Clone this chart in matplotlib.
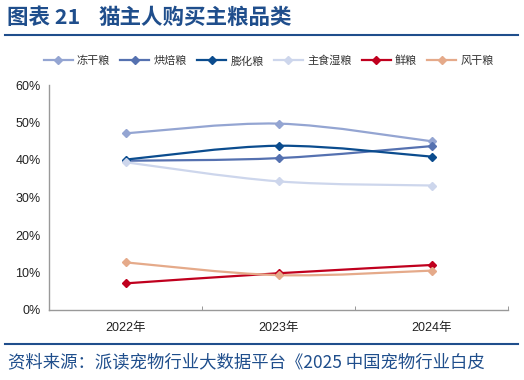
import matplotlib
matplotlib.use("Agg")
import matplotlib.pyplot as plt
from matplotlib.path import Path
from matplotlib.patches import PathPatch
from matplotlib.lines import Line2D

plt.rcParams["font.family"] = ["Liberation Sans", "Noto Sans CJK SC", "DejaVu Sans"]

years = ["2022年", "2023年", "2024年"]
series_names = ["冻干粮", "烘焙粮", "膨化粮", "主食湿粮", "鲜粮", "风干粮"]
dongganliang = [47.1, 49.7, 45.0]
hongbeiliang = [39.8, 40.5, 43.7]
penghualiang = [40.1, 43.8, 40.9]
shiliang = [39.4, 34.3, 33.2]
xianliang = [7.1, 9.8, 12.0]
fengganliang = [12.7, 9.3, 10.5]
colors = ["#94A5D2", "#5571B0", "#0B4C8E", "#CDD6EC", "#C0001E", "#E5AA8A"]

values = [dongganliang, hongbeiliang, penghualiang, shiliang, xianliang, fengganliang]

fig = plt.figure(figsize=(5.24, 3.80), dpi=100)
ax = fig.add_axes([49 / 524, 1 - 310 / 380, 459 / 524, 225 / 380])


def smooth_path(xs, ys):
    # catmull-rom style bezier like excel's smoothed line
    pts = list(zip(xs, ys))
    verts = [pts[0]]
    codes = [Path.MOVETO]
    n = len(pts)
    for i in range(n - 1):
        p0 = pts[i - 1] if i > 0 else pts[i]
        p1 = pts[i]
        p2 = pts[i + 1]
        p3 = pts[i + 2] if i + 2 < n else pts[i + 1]
        c1 = (p1[0] + (p2[0] - p0[0]) / 6, p1[1] + (p2[1] - p0[1]) / 6)
        c2 = (p2[0] - (p3[0] - p1[0]) / 6, p2[1] - (p3[1] - p1[1]) / 6)
        verts += [c1, c2, p2]
        codes += [Path.CURVE4] * 3
    return Path(verts, codes)


xs = list(range(len(years)))
handles = []
for name, vals, c in zip(series_names, values, colors):
    ax.add_patch(PathPatch(smooth_path(xs, vals), fill=False, edgecolor=c,
                           lw=1.6, capstyle="round", zorder=2))
    ax.plot(xs, vals, ls="none", marker="D", ms=4, color=c, zorder=3)
    handles.append(Line2D([], [], color=c, lw=1.6, marker="D", ms=4))

ax.set_xlim(-0.5, 2.5)
ax.set_ylim(0, 60)
ax.set_yticks(range(0, 61, 10))
ax.set_yticklabels([f"{v}%" for v in range(0, 61, 10)], fontsize=9, color="#222222")
ax.tick_params(axis="y", length=0, pad=6)
ax.set_xticks(xs)
ax.set_xticklabels(years, fontsize=9, color="#222222")
ax.tick_params(axis="x", length=0, pad=9)
ax.set_xticks([-0.5, 0.5, 1.5, 2.5], minor=True)
ax.tick_params(axis="x", which="minor", direction="in", length=3, color="#888888")
for s in ["top", "right"]:
    ax.spines[s].set_visible(False)
for s in ["left", "bottom"]:
    ax.spines[s].set_color("#999999")
    ax.spines[s].set_linewidth(1.0)

fig.legend(handles, series_names, loc="center", bbox_to_anchor=(0.513, 1 - 61 / 380),
           ncol=6, frameon=False, fontsize=8, handlelength=2.6, handletextpad=0.4,
           columnspacing=0.9, labelcolor="#333333")

navy = "#1F4E8C"
cjk = ["Noto Sans CJK SC", "DejaVu Sans"]
fig.text(7 / 524, 1 - 17 / 380, "图表 21", fontsize=15.5, fontweight="bold",
         color=navy, va="center", ha="left", family=cjk)
fig.text(99 / 524, 1 - 17 / 380, "猫主人购买主粮品类", fontsize=15.5, fontweight="bold",
         color=navy, va="center", ha="left", family=cjk)
fig.add_artist(Line2D([5 / 524, 518 / 524], [1 - 35 / 380] * 2, color=navy, lw=1.5))
fig.add_artist(Line2D([5 / 524, 518 / 524], [1 - 344 / 380] * 2, color=navy, lw=1.5))
fig.text(8 / 524, 1 - 362 / 380, "资料来源：派读宠物行业大数据平台《2025 中国宠物行业白皮",
         fontsize=12.5, color=navy, va="center", ha="left", style="italic", family=cjk)

fig.savefig("out.png", dpi=100)
